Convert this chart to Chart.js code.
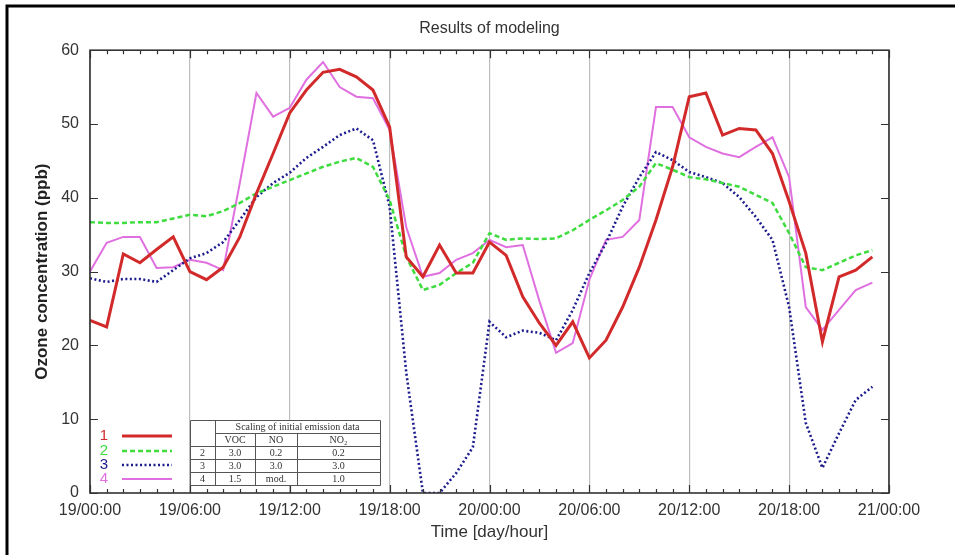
<!DOCTYPE html>
<html>
<head>
<meta charset="utf-8">
<title>Results of modeling</title>
<script src="https://cdn.jsdelivr.net/npm/chart.js@4.4.1/dist/chart.umd.min.js"></script>
<style>
  html, body { margin: 0; padding: 0; background: #fff; }
  #wrap { width: 955px; height: 555px; }
</style>
</head>
<body>
<div id="wrap"><canvas id="chart" width="955" height="555"></canvas></div>
<script>
// hours after 19/00:00
const hours = [0, 1, 2, 3, 4, 5, 6, 7, 8, 9, 10, 11, 12, 13, 14, 15, 16, 17, 18, 19, 20, 21, 22, 23,
  24, 25, 26, 27, 28, 29, 30, 31, 32, 33, 34, 35, 36, 37, 38, 39, 40, 41, 42, 43, 44, 45, 46, 47];
const xTickLabels = ['19/00:00', '19/06:00', '19/12:00', '19/18:00', '20/00:00', '20/06:00', '20/12:00', '20/18:00', '21/00:00'];
const yTicks = [0, 10, 20, 30, 40, 50, 60];

const seriesNames = ['1', '2', '3', '4'];
const run1 = [23.4, 22.5, 32.4, 31.2, 33.0, 34.7, 30.0, 28.9, 30.6, 34.7, 40.6, 46.0,
  51.5, 54.6, 57.0, 57.4, 56.4, 54.6, 49.6, 32.0, 29.3, 33.6, 29.8, 29.8,
  34.0, 32.2, 26.6, 23.0, 20.0, 23.2, 18.3, 20.7, 25.2, 30.6, 37.0, 44.2,
  53.7, 54.2, 48.5, 49.4, 49.2, 46.0, 39.5, 32.5, 20.5, 29.3, 30.2, 32.0];
const run2 = [36.7, 36.6, 36.6, 36.7, 36.7, 37.2, 37.7, 37.5, 38.2, 39.3, 40.6, 41.5,
  42.4, 43.3, 44.2, 44.9, 45.4, 44.2, 39.7, 32.0, 27.5, 28.2, 29.8, 31.2,
  35.2, 34.3, 34.5, 34.4, 34.5, 35.6, 37.0, 38.3, 39.7, 41.5, 44.7, 43.8,
  42.8, 42.5, 42.0, 41.5, 40.4, 39.3, 35.2, 30.6, 30.2, 31.2, 32.2, 32.9];
const run3 = [29.1, 28.6, 29.0, 29.0, 28.6, 30.2, 31.8, 32.5, 34.0, 37.0, 40.1, 42.0,
  43.4, 45.4, 46.9, 48.5, 49.4, 47.8, 38.8, 16.3, 0.0, 0.0, 2.7, 6.2,
  23.2, 21.1, 22.0, 21.7, 20.7, 24.8, 29.8, 33.9, 38.8, 42.8, 46.2, 45.1,
  43.5, 42.8, 42.0, 40.1, 37.4, 34.3, 25.2, 9.5, 3.4, 8.1, 12.6, 14.4];
const run4 = [30.0, 33.9, 34.7, 34.7, 30.5, 30.6, 31.6, 31.2, 30.2, 42.0, 54.2, 51.0,
  52.2, 56.0, 58.4, 55.0, 53.7, 53.5, 49.2, 36.0, 29.3, 29.8, 31.6, 32.5,
  34.3, 33.3, 33.6, 26.0, 19.0, 20.3, 28.9, 34.3, 34.7, 37.0, 52.3, 52.3,
  48.2, 46.9, 46.0, 45.5, 46.9, 48.2, 42.8, 25.2, 22.1, 24.8, 27.5, 28.5];

// emission scaling table shown in the legend
const tableTitle = 'Scaling of initial emission data';
const tableHead = ['VOC', 'NO', 'NO\u2082'];
const tableRows = [
  ['2', '3.0', '0.2', '0.2'],
  ['3', '3.0', '3.0', '3.0'],
  ['4', '1.5', 'mod.', '1.0']
];

const colors = ['#d22a2a', '#3edc3e', '#1c1c8e', '#e070e0'];
const dashes = [[], [5, 3], [2, 2.5], []];
const widths = [3, 2.5, 2.6, 2];
const sans = '"Liberation Sans", Arial, sans-serif';

function points(values) {
  return values.map((v, i) => ({ x: hours[i], y: v }));
}

const allRuns = [run1, run2, run3, run4];

// white page, outer frame, inner ticks, legend and table
const decor = {
  id: 'decor',
  beforeDraw(chart) {
    const ctx = chart.ctx;
    ctx.save();
    ctx.fillStyle = '#fff';
    ctx.fillRect(0, 0, chart.width, chart.height);
    ctx.strokeStyle = '#000';
    ctx.lineWidth = 3;
    ctx.strokeRect(7, 6, 1000, 600);
    ctx.restore();
  },
  afterDraw(chart) {
    const ctx = chart.ctx;
    const a = chart.chartArea;
    const xs = chart.scales.x, ys = chart.scales.y;
    ctx.save();

    // plot box
    ctx.strokeStyle = '#333';
    ctx.lineWidth = 1.6;
    ctx.strokeRect(a.left, a.top, a.right - a.left, a.bottom - a.top);

    // ticks inside the box
    ctx.lineWidth = 1.2;
    ctx.beginPath();
    for (let h = 0; h <= 48; h++) {
      const px = Math.round(xs.getPixelForValue(h)) + 0.5;
      const len = h % 6 === 0 ? 8 : 4;
      ctx.moveTo(px, a.bottom); ctx.lineTo(px, a.bottom - len);
      ctx.moveTo(px, a.top); ctx.lineTo(px, a.top + len);
    }
    yTicks.forEach(v => {
      const py = Math.round(ys.getPixelForValue(v)) + 0.5;
      ctx.moveTo(a.left, py); ctx.lineTo(a.left + 8, py);
      ctx.moveTo(a.right, py); ctx.lineTo(a.right - 8, py);
    });
    ctx.stroke();

    // legend keys
    const ly = [436, 451, 465, 479];
    ctx.font = '15px ' + sans;
    ctx.textAlign = 'center';
    ctx.textBaseline = 'middle';
    seriesNames.forEach((name, i) => {
      ctx.fillStyle = colors[i];
      ctx.fillText(name, 104, ly[i]);
      ctx.strokeStyle = colors[i];
      ctx.lineWidth = widths[i];
      ctx.setLineDash(dashes[i]);
      ctx.beginPath();
      ctx.moveTo(122, ly[i]);
      ctx.lineTo(172, ly[i]);
      ctx.stroke();
    });
    ctx.setLineDash([]);

    // table
    const cx = [190, 215, 255, 297, 380];
    const ry = [420, 433, 446, 459, 472, 485];
    ctx.fillStyle = '#fff';
    ctx.fillRect(cx[0], ry[0], cx[4] - cx[0], ry[5] - ry[0]);
    ctx.strokeStyle = '#555';
    ctx.lineWidth = 1;
    ctx.beginPath();
    ctx.rect(cx[0] + 0.5, ry[0] + 0.5, cx[4] - cx[0], ry[5] - ry[0]);
    ctx.moveTo(cx[1] + 0.5, ry[1] + 0.5); ctx.lineTo(cx[4], ry[1] + 0.5);
    for (let r = 2; r < 5; r++) { ctx.moveTo(cx[0], ry[r] + 0.5); ctx.lineTo(cx[4], ry[r] + 0.5); }
    ctx.moveTo(cx[1] + 0.5, ry[0]); ctx.lineTo(cx[1] + 0.5, ry[5]);
    ctx.moveTo(cx[2] + 0.5, ry[1]); ctx.lineTo(cx[2] + 0.5, ry[5]);
    ctx.moveTo(cx[3] + 0.5, ry[1]); ctx.lineTo(cx[3] + 0.5, ry[5]);
    ctx.stroke();

    ctx.fillStyle = '#333';
    ctx.font = '10px "Liberation Serif", "DejaVu Serif", serif';
    ctx.fillText(tableTitle, (cx[1] + cx[4]) / 2, (ry[0] + ry[1]) / 2 + 1);
    tableHead.forEach((t, c) => {
      ctx.fillText(t, (cx[c + 1] + cx[c + 2]) / 2, (ry[1] + ry[2]) / 2 + 1);
    });
    tableRows.forEach((row, r) => {
      row.forEach((t, c) => {
        ctx.fillText(t, (cx[c] + cx[c + 1]) / 2, (ry[r + 2] + ry[r + 3]) / 2 + 1);
      });
    });
    ctx.restore();
  }
};

new Chart(document.getElementById('chart'), {
  type: 'line',
  data: {
    datasets: allRuns.map((run, i) => ({
      label: seriesNames[i],
      data: points(run),
      borderColor: colors[i],
      borderWidth: widths[i],
      borderDash: dashes[i],
      pointRadius: 0,
      tension: 0,
      fill: false
    }))
  },
  options: {
    responsive: false,
    animation: false,
    devicePixelRatio: 1,
    layout: { padding: { left: 0, right: 66, top: 0, bottom: 0 } },
    plugins: {
      legend: { display: false },
      tooltip: { enabled: false },
      title: {
        display: true,
        text: 'Results of modeling',
        fullSize: false,
        color: '#333',
        font: { family: sans, size: 16, weight: 'normal' },
        padding: { top: 19, bottom: 12 }
      }
    },
    scales: {
      x: {
        type: 'linear',
        min: 0,
        max: 48,
        border: { display: false },
        grid: { color: '#bdbdbd', lineWidth: 1.2, drawTicks: false },
        ticks: {
          stepSize: 6,
          padding: 8,
          color: '#333',
          font: { family: sans, size: 16 },
          maxRotation: 0,
          callback: v => xTickLabels[v / 6]
        },
        title: {
          display: true,
          text: 'Time [day/hour]',
          color: '#333',
          font: { family: sans, size: 17 },
          padding: { top: 2, bottom: 12 }
        },
        afterFit: s => { s.height = 62; }
      },
      y: {
        min: 0,
        max: 60,
        border: { display: false },
        grid: { display: false, drawTicks: false },
        ticks: {
          stepSize: 10,
          padding: 11,
          color: '#333',
          font: { family: sans, size: 16 }
        },
        title: {
          display: true,
          text: 'Ozone concentration (ppb)',
          color: '#222',
          font: { family: sans, size: 17, weight: 'bold' },
          padding: { top: 32, bottom: 0 }
        },
        afterFit: s => { s.width = 90; }
      }
    }
  },
  plugins: [decor]
});
</script>
</body>
</html>
